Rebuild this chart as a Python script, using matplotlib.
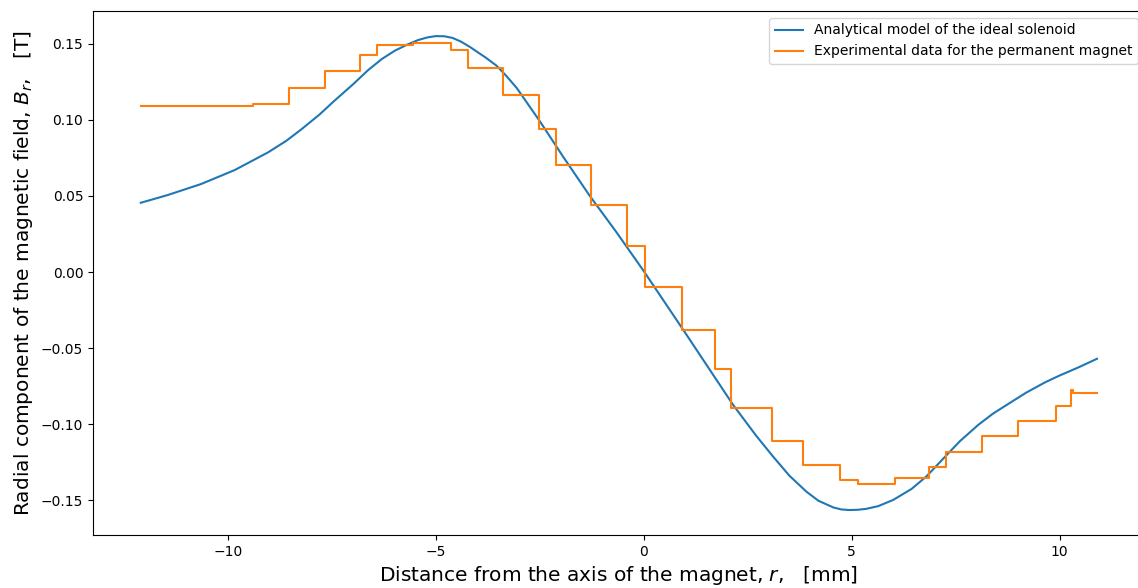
import matplotlib
matplotlib.use("Agg")
import matplotlib.pyplot as plt

# analytical model
r_model = [-12.1, -11.45, -10.65, -9.84, -9.04, -8.6, -8.24, -7.8, -7.44, -7.0,
           -6.63, -6.3, -5.99, -5.7, -5.43, -5.2, -5.0, -4.8, -4.6, -4.4,
           -4.19, -3.8, -3.54, -3.3, -3.06, -2.50, -1.94, -1.30, -0.66, 0.0,
           0.95, 2.15, 2.7, 3.11, 3.5, 3.91, 4.2, 4.56, 4.75, 4.95,
           5.15, 5.35, 5.64, 6.0, 6.44, 6.8, 7.24, 7.6, 8.04, 8.4,
           8.85, 9.2, 9.65, 10.0, 10.45, 10.9]
b_model = [0.0455, 0.0506, 0.0578, 0.0670, 0.0786, 0.0862, 0.0937, 0.1035, 0.1126, 0.1232,
           0.1327, 0.1400, 0.1454, 0.1493, 0.1524, 0.1542, 0.1550, 0.1549, 0.1538, 0.1514,
           0.1480, 0.1408, 0.1355, 0.1286, 0.1210, 0.0990, 0.0757, 0.0500, 0.0262, 0.0005,
           -0.0381, -0.0874, -0.1075, -0.1213, -0.1338, -0.1443, -0.1503, -0.1547, -0.1560, -0.1564,
           -0.1562, -0.1556, -0.1538, -0.1497, -0.1425, -0.1342, -0.1215, -0.1112, -0.1005, -0.0930,
           -0.0852, -0.0792, -0.0725, -0.0680, -0.0627, -0.0570]

# experimental data (step levels and the positions where they change)
r_exp = [-12.1, -9.40, -8.54, -7.68, -6.82, -6.42, -5.55, -4.63, -4.23, -3.38,
         -2.52, -2.12, -1.27, -0.40, 0.02, 0.91, 1.71, 2.10, 3.09, 3.84,
         4.71, 5.16, 6.03, 6.87, 7.27, 8.14, 9.01, 9.91, 10.27, 10.32, 10.9]
b_exp = [0.1091, 0.1107, 0.1211, 0.1324, 0.1423, 0.1493, 0.1508, 0.1459, 0.1338, 0.1165,
         0.0942, 0.0703, 0.0438, 0.0169, -0.0100, -0.0379, -0.0640, -0.0893, -0.1108, -0.1270,
         -0.1367, -0.1392, -0.1355, -0.1279, -0.1182, -0.1077, -0.0976, -0.0878, -0.0775, -0.0795, -0.0795]

fig = plt.figure(figsize=(11.38, 5.88), dpi=100)
ax = fig.add_axes([0.0817, 0.0901, 0.9243, 0.8912])

ax.plot(r_model, b_model, color="#1f77b4", lw=1.5,
        label="Analytical model of the ideal solenoid")
ax.plot(r_exp, b_exp, color="#ff7f0e", lw=1.5, drawstyle="steps-post",
        label="Experimental data for the permanent magnet")

ax.set_xlim(-13.25, 12.05)
ax.set_ylim(-0.1728, 0.1715)
ax.tick_params(labelsize=10)
ax.set_xlabel("Distance from the axis of the magnet, $r$,   [mm]", fontsize=14.5)
ax.set_ylabel("Radial component of the magnetic field, $B_r$,   [T]", fontsize=14.5)
ax.legend(loc="upper right", fontsize=10)

fig.savefig("out.png", dpi=100)
